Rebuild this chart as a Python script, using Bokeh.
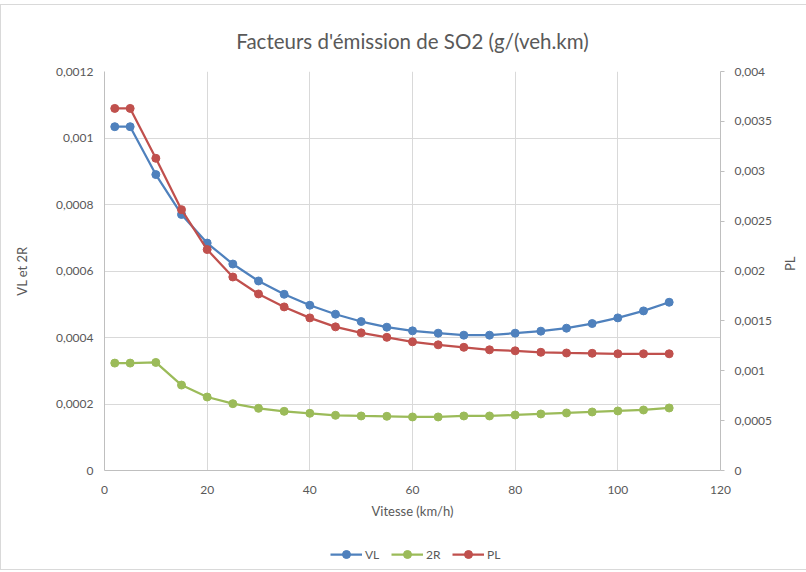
import math
from bokeh.plotting import figure
from bokeh.layouts import column
from bokeh.models import (Range1d, LinearAxis, FixedTicker, CustomJSTickFormatter,
                          ColumnDataSource, Legend, LegendItem)
from bokeh.embed import file_html
from bokeh.resources import INLINE

# ---- data ----
vitesse = [2, 5, 10, 15, 20, 25, 30, 35, 40, 45, 50, 55, 60, 65, 70, 75, 80, 85, 90, 95, 100, 105, 110]
vl = [0.001034, 0.001034, 0.000890, 0.000770, 0.000684, 0.000621, 0.000570, 0.000530, 0.000497,
      0.000470, 0.000448, 0.000431, 0.000420, 0.000413, 0.000407, 0.000407, 0.000413, 0.000419,
      0.000428, 0.000442, 0.000459, 0.000480, 0.000506]
deux_r = [0.000323, 0.000323, 0.000325, 0.000257, 0.000221, 0.000201, 0.000187, 0.000178, 0.000172,
          0.000166, 0.000164, 0.000163, 0.000161, 0.000161, 0.000164, 0.000164, 0.000167, 0.000170,
          0.000173, 0.000176, 0.000179, 0.000182, 0.000188]
pl = [0.00363, 0.00363, 0.00313, 0.002615, 0.002215, 0.00194, 0.00177, 0.00164, 0.00153, 0.00144,
      0.00138, 0.001335, 0.00129, 0.00126, 0.001235, 0.00121, 0.00120, 0.001185, 0.001178, 0.001175,
      0.00117, 0.00117, 0.00117]
x_ticks = [0, 20, 40, 60, 80, 100, 120]
left_ticks = [0, 0.0002, 0.0004, 0.0006, 0.0008, 0.001, 0.0012]
right_ticks = [0, 0.0005, 0.001, 0.0015, 0.002, 0.0025, 0.003, 0.0035, 0.004]
series_names = ["VL", "2R", "PL"]

title_txt = "Facteurs d'émission de SO2 (g/(veh.km)"
FONT = "Lato"
GRAY = "#595959"
AXC = "#bfbfbf"
GRID = "#d9d9d9"
C_VL, C_2R, C_PL = "#4F81BD", "#9BBB59", "#C0504D"

src = ColumnDataSource(dict(x=vitesse, vl=vl, r2=deux_r, pl=pl))

p = figure(frame_width=616, frame_height=399, output_backend="svg", toolbar_location=None,
           x_range=Range1d(0, 120), y_range=Range1d(0, 0.0012),
           min_border_left=103, min_border_right=76, min_border_top=66, min_border_bottom=0)
p.extra_y_ranges = {"pl": Range1d(0, 0.004)}

p.title.text = title_txt
p.title.align = "center"
p.title.text_font = FONT
p.title.text_font_size = "20.5px"
p.title.text_font_style = "normal"
p.title.text_color = GRAY
p.title.standoff = 38

fmt = CustomJSTickFormatter(code="""
var s = tick.toFixed(4).replace(/0+$/, '').replace(/\\.$/, '');
return s.replace('.', ',');
""")

xa = p.xaxis[0]
xa.ticker = FixedTicker(ticks=x_ticks)
xa.axis_label = "Vitesse (km/h)"
ya = p.yaxis[0]
ya.ticker = FixedTicker(ticks=left_ticks)
ya.formatter = fmt
ya.axis_label = "VL et 2R"
ra = LinearAxis(y_range_name="pl", ticker=FixedTicker(ticks=right_ticks), formatter=fmt,
                axis_label="PL")
p.add_layout(ra, "right")

for ax in [xa, ya, ra]:
    ax.axis_line_color = AXC
    ax.major_tick_line_color = None
    ax.minor_tick_line_color = None
    ax.major_label_text_font = FONT
    ax.major_label_text_font_size = "12px"
    ax.major_label_text_color = GRAY
    ax.axis_label_text_font = FONT
    ax.axis_label_text_font_size = "13px"
    ax.axis_label_text_font_style = "normal"
    ax.axis_label_text_color = GRAY
ra.major_tick_line_color = AXC
ra.major_tick_out = 4
ra.major_tick_in = 0
ra.axis_label_orientation = math.pi / 2
xa.major_label_standoff = 9
xa.axis_label_standoff = 6
ya.major_label_standoff = 5
ya.axis_label_standoff = 23
ra.major_label_standoff = 10
ra.axis_label_standoff = 15

p.xgrid.grid_line_color = GRID
p.ygrid.grid_line_color = GRID
p.xgrid.ticker = FixedTicker(ticks=x_ticks)
p.ygrid.ticker = FixedTicker(ticks=left_ticks)
p.outline_line_color = None
p.background_fill_color = "white"
p.border_fill_color = "white"

colors = [C_VL, C_2R, C_PL]
p.line("x", "vl", source=src, color=C_VL, line_width=2.25)
p.scatter("x", "vl", source=src, color=C_VL, size=8)
p.line("x", "r2", source=src, color=C_2R, line_width=2.25)
p.scatter("x", "r2", source=src, color=C_2R, size=8)
p.line("x", "pl", source=src, color=C_PL, line_width=2.25, y_range_name="pl")
p.scatter("x", "pl", source=src, color=C_PL, size=8, y_range_name="pl")

# ---- legend strip below the chart ----
lf = figure(frame_width=616, frame_height=48, output_backend="svg", toolbar_location=None,
            x_axis_location=None, y_axis_location=None,
            x_range=Range1d(0, 1), y_range=Range1d(0, 1),
            min_border_left=103, min_border_right=76, min_border_top=0, min_border_bottom=0)
lf.xgrid.visible = False
lf.ygrid.visible = False
lf.outline_line_color = None
lf.border_fill_color = "white"
items = []
for name, c in zip(series_names, colors):
    # placeholder point outside the visible range: only the legend glyph is shown
    lr = lf.line([5, 6], [5, 5], color=c, line_width=2.25)
    sr = lf.scatter([5], [5], color=c, size=8)
    items.append(LegendItem(label=name, renderers=[lr, sr]))
legend = Legend(items=items, orientation="horizontal", location=(226, 5),
                border_line_color=None, background_fill_alpha=0,
                label_text_font=FONT, label_text_font_size="12px", label_text_color=GRAY,
                glyph_width=32, spacing=6, margin=0, padding=0, label_standoff=3)
lf.add_layout(legend, "center")

layout = column(p, lf, spacing=0)
layout.margin = (4, 0, 0, 0)
layout.styles = {"border": "1px solid #d9d9d9"}

open("out.html", "w").write(file_html(layout, INLINE))
